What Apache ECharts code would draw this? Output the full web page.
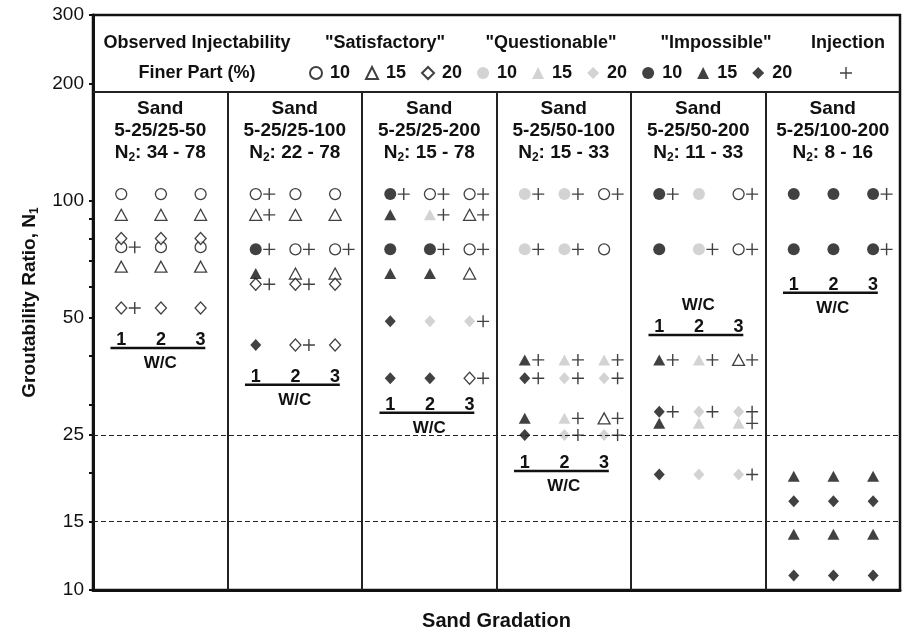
<!DOCTYPE html>
<html><head><meta charset="utf-8">
<script src="https://cdn.jsdelivr.net/npm/echarts@6/dist/echarts.min.js"></script>
<style>html,body{margin:0;padding:0;background:#fff}#c{width:905px;height:631px}</style>
</head><body><div id="c"></div>
<script>
// ---------------- data ----------------
const panelGradations = ['5-25/25-50','5-25/25-100','5-25/25-200','5-25/50-100','5-25/50-200','5-25/100-200'];
const panelN2 = ['34 - 78','22 - 78','15 - 78','15 - 33','11 - 33','8 - 16'];
const wcValues = ['1','2','3'];
const yTickLabels = [10,15,25,50,100,200,300];
const yTickMarks = [10,15,20,25,30,40,50,60,70,80,90,100,200,300];
const dashedLevels = [25, 15];
// each point: [panel index, W/C, N1, injection (1 = "+")]
const satisfactory10 = [[0,1,104,0],[0,2,104,0],[0,3,104,0],[0,1,76,1],[0,2,76,0],[0,3,76,0],
  [1,1,104,1],[1,2,104,0],[1,3,104,0],[1,2,75,1],[1,3,75,1],
  [2,2,104,1],[2,3,104,1],[2,3,75,1],
  [3,3,104,1],[3,3,75,0],
  [4,3,104,1],[4,3,75,1]];
const satisfactory15 = [[0,1,92,0],[0,2,92,0],[0,3,92,0],[0,1,67.7,0],[0,2,67.7,0],[0,3,67.7,0],
  [1,1,92,1],[1,2,92,0],[1,3,92,0],[1,2,65,0],[1,3,65,0],
  [2,3,92,1],[2,3,65,0],
  [3,3,27.6,1],
  [4,3,39,1]];
const satisfactory20 = [[0,1,80,0],[0,2,80,0],[0,3,80,0],[0,1,53,1],[0,2,53,0],[0,3,53,0],
  [1,1,61,1],[1,2,61,1],[1,3,61,0],[1,2,42.6,1],[1,3,42.6,0],
  [2,3,35,1]];
const questionable10 = [[3,1,104,1],[3,2,104,1],[3,1,75,1],[3,2,75,1],[4,2,104,0],[4,2,75,1]];
const questionable15 = [[2,2,92,1],[3,2,39,1],[3,3,39,1],[3,2,27.6,1],[4,2,39,1],[4,2,26.8,0],[4,3,26.8,1]];
const questionable20 = [[2,2,49,0],[2,3,49,1],[3,2,35,1],[3,3,35,1],[3,2,25,1],[3,3,25,1],
  [4,2,28.7,1],[4,3,28.7,1],[4,2,19.8,0],[4,3,19.8,1]];
const impossible10 = [[1,1,75,1],[2,1,104,1],[2,1,75,0],[2,2,75,1],[4,1,104,1],[4,1,75,0],
  [5,1,104,0],[5,2,104,0],[5,3,104,1],[5,1,75,0],[5,2,75,0],[5,3,75,1]];
const impossible15 = [[1,1,65,0],[2,1,92,0],[2,1,65,0],[2,2,65,0],[3,1,39,1],[3,1,27.6,0],[4,1,39,1],[4,1,26.8,0],
  [5,1,19.6,0],[5,2,19.6,0],[5,3,19.6,0],[5,1,13.9,0],[5,2,13.9,0],[5,3,13.9,0]];
const impossible20 = [[1,1,42.6,0],[2,1,49,0],[2,1,35,0],[2,2,35,0],[3,1,35,1],[3,1,25,0],[4,1,28.7,1],[4,1,19.8,0],
  [5,1,16.9,0],[5,2,16.9,0],[5,3,16.9,0],[5,1,10.9,0],[5,2,10.9,0],[5,3,10.9,0]];
// W/C scale per panel: N1 level of the "1 2 3" row; whether "W/C" is written below it
const wcLabelN1 = [43.9, 35.3, 29.9, 21.2, 47.4, 60.8];
const wcTitleBelow = [1,1,1,1,0,1];

// ---------------- layout / style ----------------
const FONT = '"Liberation Sans", Arial, Helvetica, sans-serif';
const INK = '#111';
const GREY = '#c8c8c8';
const wcOffset = [0.21, 0.505, 0.8];
const headerN1 = 172.7;       // level of the "Sand" line
const legendSepN1 = 190;      // separator under the legend box
const PLUS = 'path://M5.3,0H6.7V5.3H12V6.7H6.7V12H5.3V6.7H0V5.3H5.3Z';

const openStyle = {color:'#fff', borderColor:INK, borderWidth:1.3};
const greyStyle = {color:GREY};
const blackStyle = {color:INK};
const groups = [
  {name:'Satisfactory 10', data:satisfactory10, symbol:'circle', size:11, style:openStyle},
  {name:'Satisfactory 15', data:satisfactory15, symbol:'triangle', size:[12,11], style:openStyle},
  {name:'Satisfactory 20', data:satisfactory20, symbol:'diamond', size:[11,12], style:openStyle},
  {name:'Questionable 10', data:questionable10, symbol:'circle', size:12, style:greyStyle},
  {name:'Questionable 15', data:questionable15, symbol:'triangle', size:[12,11], style:greyStyle},
  {name:'Questionable 20', data:questionable20, symbol:'diamond', size:[11,12], style:greyStyle},
  {name:'Impossible 10', data:impossible10, symbol:'circle', size:12, style:blackStyle},
  {name:'Impossible 15', data:impossible15, symbol:'triangle', size:[12,11], style:blackStyle},
  {name:'Impossible 20', data:impossible20, symbol:'diamond', size:[11,12], style:blackStyle}
];
const xOf = d => d[0] + wcOffset[d[1]-1];
const plusData = [];
groups.forEach(g => g.data.forEach(d => { if (d[3]) plusData.push([xOf(d), d[2]]); }));

const series = groups.map(g => ({
  type:'scatter', name:g.name, symbol:g.symbol, symbolSize:g.size, symbolKeepAspect:true,
  itemStyle:g.style, z:4, silent:true,
  data:g.data.map(d => [xOf(d), d[2]])
}));
series.push({
  type:'scatter', name:'Injection', symbol:PLUS, symbolSize:12, symbolOffset:[13.5,0],
  itemStyle:{color:INK}, z:4, silent:true, data:plusData
});
// frame lines: panel dividers, legend separator, dashed reference levels
const frameLines = [];
for (let i = 1; i < panelGradations.length; i++) {
  frameLines.push([{coord:[i,10], lineStyle:{color:'#222', width:2, type:'solid'}}, {coord:[i,legendSepN1]}]);
}
frameLines.push({yAxis:legendSepN1, lineStyle:{color:'#222', width:2, type:'solid'}});
dashedLevels.forEach(v => frameLines.push({yAxis:v, lineStyle:{color:'#222', width:1, type:[5,3]}}));
series.push({
  type:'scatter', name:'frame', data:[], z:1, silent:true,
  markLine:{silent:true, symbol:['none','none'], label:{show:false}, animation:false, data:frameLines}
});
// panel headers
series.push({
  type:'custom', name:'headers', z:3, silent:true, clip:false,
  encode:{x:0, y:1},
  data:panelGradations.map((g,i) => [i+0.5, headerN1, i]),
  renderItem(params, api) {
    const i = api.value(2);
    const pt = api.coord([api.value(0), api.value(1)]);
    const base = {fontSize:19, fontWeight:'bold', fontFamily:FONT, fill:INK, align:'center', verticalAlign:'middle'};
    return {type:'group', children:[
      {type:'text', x:pt[0], y:pt[1], style:Object.assign({text:'Sand'}, base)},
      {type:'text', x:pt[0], y:pt[1]+22.3, style:Object.assign({text:panelGradations[i]}, base)},
      {type:'text', x:pt[0], y:pt[1]+44.3, style:Object.assign({text:'N{sub|2}: ' + panelN2[i],
        rich:{sub:{fontSize:12, fontWeight:'bold', fontFamily:FONT, fill:INK, padding:[10,0,0,0]}}}, base)}
    ]};
  }
});
// W/C scales inside each panel
series.push({
  type:'custom', name:'wc', z:3, silent:true, clip:false,
  encode:{x:0, y:1},
  data:wcLabelN1.map((v,i) => [i, v, wcTitleBelow[i]]),
  renderItem(params, api) {
    const p = api.value(0), n1 = api.value(1), below = api.value(2);
    const y = api.coord([p, n1])[1];
    const font = {fontSize:18, fontWeight:'bold', fontFamily:FONT, fill:INK, align:'center', verticalAlign:'middle'};
    const ch = [];
    wcValues.forEach((t,k) => {
      const x = api.coord([p + wcOffset[k], n1])[0];
      ch.push({type:'text', x:x, y:y, style:Object.assign({text:t}, font)});
    });
    const x0 = api.coord([p + 0.13, n1])[0], x1 = api.coord([p + 0.835, n1])[0];
    const xm = api.coord([p + 0.5, n1])[0];
    ch.push({type:'line', shape:{x1:x0, y1:y+8, x2:x1, y2:y+8}, style:{stroke:INK, lineWidth:2.5}});
    ch.push({type:'text', x:xm, y: below ? y + 23.5 : y - 22, style:Object.assign({text:'W/C'}, font, {fontSize:17})});
    return {type:'group', children:ch};
  }
});

const legendText = {fontSize:18, fontWeight:'bold', fontFamily:FONT, color:INK, padding:[0,0,0,3]};
const option = {
  animation:false,
  backgroundColor:'#fff',
  grid:{left:93, right:5, top:15, bottom:41, show:true, borderColor:INK, borderWidth:2.5,
        containLabel:false, outerBoundsMode:'none'},
  xAxis:{
    type:'value', min:0, max:panelGradations.length, interval:1,
    axisLabel:{show:false}, axisTick:{show:false}, splitLine:{show:false},
    axisLine:{show:true, lineStyle:{color:INK, width:3}},
    name:'Sand Gradation', nameLocation:'middle', nameGap:21,
    nameTextStyle:{fontSize:20, fontWeight:'bold', fontFamily:FONT, color:INK}
  },
  yAxis:{
    type:'log', logBase:10, min:10, max:300,
    axisLine:{show:true, lineStyle:{color:INK, width:3}},
    axisTick:{show:true, length:4, lineStyle:{color:INK, width:2}, customValues:yTickMarks},
    axisLabel:{fontSize:19, color:INK, fontFamily:FONT, margin:9, customValues:yTickLabels},
    minorTick:{show:false}, splitLine:{show:false},
    name:'Groutability Ratio, N{sub|1}', nameLocation:'middle', nameGap:52,
    nameTextStyle:{fontSize:19, fontWeight:'bold', fontFamily:FONT, color:INK,
      rich:{sub:{fontSize:12, fontWeight:'bold', fontFamily:FONT, color:INK, padding:[10,0,0,0]}}}
  },
  legend:[
    {data:groups.map(g => g.name), left:309, top:64, padding:0, itemWidth:12, itemHeight:12, itemGap:15,
     selectedMode:false, symbolKeepAspect:true, textStyle:legendText,
     formatter:name => name.split(' ')[1]},
    {data:['Injection'], left:840, top:67, padding:0, itemWidth:12, itemHeight:12,
     selectedMode:false, textStyle:{fontSize:18, color:INK}, formatter:() => ''}
  ],
  graphic:[
    {type:'text', x:197, y:43, style:{text:'Observed Injectability', font:'bold 18px ' + FONT, fill:INK, align:'center', verticalAlign:'middle'}},
    {type:'text', x:197, y:73, style:{text:'Finer Part (%)', font:'bold 18px ' + FONT, fill:INK, align:'center', verticalAlign:'middle'}},
    {type:'text', x:385, y:43, style:{text:'"Satisfactory"', font:'bold 18px ' + FONT, fill:INK, align:'center', verticalAlign:'middle'}},
    {type:'text', x:551, y:43, style:{text:'"Questionable"', font:'bold 18px ' + FONT, fill:INK, align:'center', verticalAlign:'middle'}},
    {type:'text', x:716, y:43, style:{text:'"Impossible"', font:'bold 18px ' + FONT, fill:INK, align:'center', verticalAlign:'middle'}},
    {type:'text', x:848, y:43, style:{text:'Injection', font:'bold 18px ' + FONT, fill:INK, align:'center', verticalAlign:'middle'}}
  ],
  series:series
};
const chart = echarts.init(document.getElementById('c'));
chart.setOption(option);
</script></body></html>
